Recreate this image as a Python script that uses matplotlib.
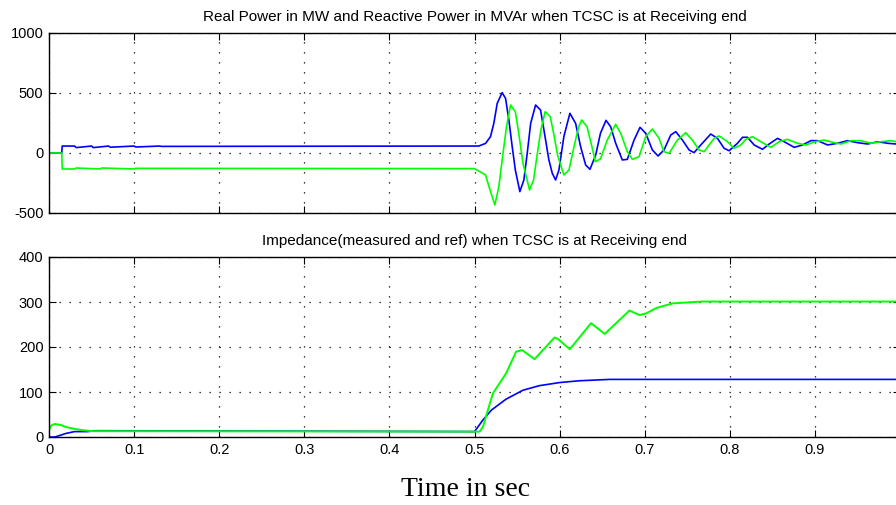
import matplotlib
matplotlib.use("Agg")
from matplotlib import pyplot as plt

# top plot: real power (blue) and reactive power (green)
p_t = [0, 0.015, 0.0155, 0.03, 0.032, 0.05, 0.052, 0.07, 0.072, 0.1, 0.102, 0.13, 0.132, 0.505,
       0.513, 0.5188, 0.5227, 0.5267, 0.5325, 0.5365, 0.5404, 0.5443, 0.548, 0.5533, 0.558,
       0.562, 0.566, 0.5718, 0.5776, 0.5816, 0.5874, 0.5914, 0.5953, 0.5992, 0.605, 0.6121,
       0.6188, 0.6247, 0.6306, 0.6357, 0.6424, 0.648, 0.6545, 0.66, 0.6659, 0.6737, 0.6796,
       0.6875, 0.6945, 0.7012, 0.709, 0.7157, 0.7227, 0.7306, 0.7365, 0.7443, 0.7522, 0.758,
       0.7659, 0.7776, 0.7855, 0.7933, 0.7992, 0.809, 0.815, 0.8208, 0.8286, 0.8384, 0.8463,
       0.8561, 0.8639, 0.8757, 0.8855, 0.8953, 0.9031, 0.9149, 0.9267, 0.9384, 0.9502, 0.962,
       0.9737, 0.9855, 0.9953]
p_val = [0, 0, 58, 58, 45, 58, 45, 58, 48, 58, 50, 58, 55, 58,
         80, 136, 247, 414, 503, 455, 275, 53, -142, -322, -225,
         0, 247, 400, 358, 192, -58, -169, -225, -142, 136, 331,
         247, 53, -100, -136, -17, 164, 272, 219, 81, -58, -53,
         108, 214, 164, 25, -25, 25, 150, 178, 108, 25, 3,
         67, 158, 122, 39, 19, 81, 131, 131, 67, 31, 75,
         122, 94, 47, 67, 103, 103, 67, 81, 103, 86, 75,
         94, 81, 75]

q_t = [0, 0.015, 0.0155, 0.03, 0.032, 0.06, 0.062, 0.1, 0.102, 0.5,
       0.513, 0.517, 0.5239, 0.5286, 0.5325, 0.5376, 0.5424, 0.548, 0.552, 0.557, 0.5647,
       0.5694, 0.5733, 0.578, 0.583, 0.589, 0.593, 0.5976, 0.605, 0.611, 0.6165, 0.6224,
       0.626, 0.6322, 0.638, 0.642, 0.648, 0.656, 0.6659, 0.6718, 0.6796, 0.6855, 0.6933,
       0.7012, 0.709, 0.7169, 0.7227, 0.7286, 0.7384, 0.7482, 0.756, 0.7639, 0.7698, 0.7816,
       0.7875, 0.7973, 0.805, 0.8129, 0.8188, 0.8267, 0.8365, 0.8482, 0.858, 0.8678, 0.8796,
       0.8894, 0.8992, 0.911, 0.9227, 0.9306, 0.9424, 0.9541, 0.9659, 0.9776, 0.9894, 0.9953]
q_val = [0, 0, -133, -133, -125, -133, -125, -133, -128, -130,
         -183, -280, -433, -280, -58, 219, 400, 344, 164, -86, -308,
         -225, -31, 192, 344, 303, 164, -17, -183, -142, 39, 219,
         275, 219, 53, -72, -50, 108, 239, 164, 11, -53, -31,
         136, 200, 122, 11, -3, 108, 169, 108, 25, 11, 122,
         142, 94, 39, 67, 114, 136, 94, 47, 94, 114, 81,
         67, 92, 108, 86, 75, 103, 103, 81, 94, 103, 94]

# bottom plot: impedance measured (blue) and ref (green)
zm_t = [0, 0.007, 0.02, 0.03, 0.045, 0.056, 0.5, 0.51, 0.52, 0.537, 0.557, 0.576, 0.6, 0.6235,
        0.659, 0.995]
zm_val = [0, 0, 8, 12, 12, 14, 12, 38, 60, 84, 104, 114, 121, 125, 128, 128]

zr_t = [0, 0.003, 0.007, 0.015, 0.02, 0.03, 0.04, 0.05, 0.5, 0.506, 0.51, 0.5216, 0.537, 0.549,
        0.556, 0.5706, 0.594, 0.598, 0.612, 0.637, 0.653, 0.682, 0.694, 0.702, 0.714, 0.733,
        0.767, 0.995]
zr_val = [16, 26, 29, 26, 22, 18, 15, 13, 12, 12, 23, 97, 141, 190,
          193, 173, 221, 218, 195, 253, 229, 281, 271, 275, 287, 297,
          301, 301]

plt.rcParams['font.family'] = ['Liberation Sans', 'DejaVu Sans']
plt.rcParams['axes.unicode_minus'] = False
fig = plt.figure(figsize=(8.96, 5.05), dpi=100)

ax1 = fig.add_axes([49/896, 1-213/505, 851/896, 180/505])
ax2 = fig.add_axes([49/896, 1-437/505, 851/896, 180/505])

ax1.plot(p_t, p_val, c='#0000ff', lw=1.2)
ax1.plot(q_t, q_val, c='#00ff00', lw=1.2)
ax2.plot(zm_t, zm_val, c='#0000ff', lw=1.2)
ax2.plot(zr_t, zr_val, c='#00ff00', lw=1.4)

for ax in (ax1, ax2):
    ax.set_xlim(0, 1)
    ax.set_xticks([0, 0.1, 0.2, 0.3, 0.4, 0.5, 0.6, 0.7, 0.8, 0.9])
    ax.grid(True, ls=(0, (1, 7)), c='k', lw=0.9)
    ax.tick_params(direction='in', top=True, right=True, length=5, labelsize=10.5, pad=4)
    for s in ax.spines.values():
        s.set_linewidth(1)

ax1.set_ylim(-500, 1000)
ax1.set_yticks([-500, 0, 500, 1000])
ax1.set_xticklabels([])
ax1.set_title('Real Power in MW and Reactive Power in MVAr when TCSC is at Receiving end',
              fontsize=11, pad=9)

ax2.set_ylim(0, 400)
ax2.set_yticks([0, 100, 200, 300, 400])
ax2.set_xticklabels(['0', '0.1', '0.2', '0.3', '0.4', '0.5', '0.6', '0.7', '0.8', '0.9'])
ax2.set_title('Impedance(measured and ref) when TCSC is at Receiving end', fontsize=11, pad=9)

fig.text(465/896, 1-489/505, 'Time in sec', family='Liberation Serif', fontsize=20,
         ha='center', va='center')

fig.savefig('out.png', dpi=100)
